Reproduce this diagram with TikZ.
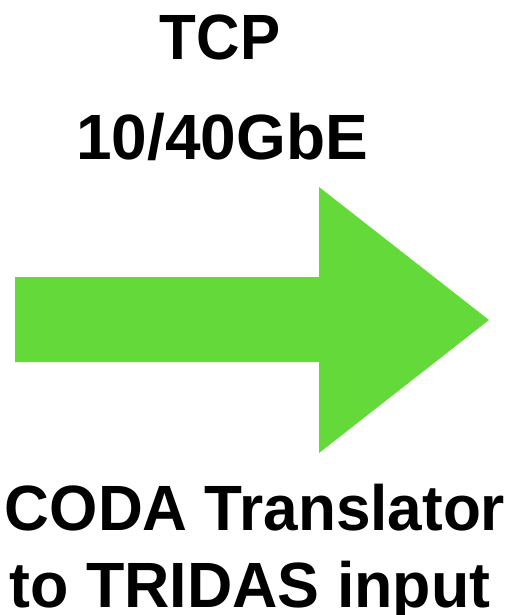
\documentclass[tikz,border=0pt]{standalone}
\usepackage{fontspec}
\setmainfont{Liberation Sans}
\definecolor{arrowgreen}{RGB}{100,218,58}
\begin{document}
\begin{tikzpicture}[x=1pt,y=-1pt,
  label/.style={font=\fontsize{64}{64}\selectfont\bfseries, inner sep=0pt, anchor=base}]
\useasboundingbox (0,0) rectangle (514,615);
\fill[arrowgreen] (15,277) -- (319,277) -- (319,187) -- (489,320) -- (319,453) -- (319,362) -- (15,362) -- cycle;
\node[label, xscale=0.94] (tcp) at (220,60) {TCP};
\node[label] (gbe) at (222,159) {10/40GbE};
\node[label, xscale=0.97] (coda) at (255,530) {CODA Translator};
\node[label, xscale=0.98] (tridas) at (250,607) {to TRIDAS input};
\end{tikzpicture}
\end{document}
